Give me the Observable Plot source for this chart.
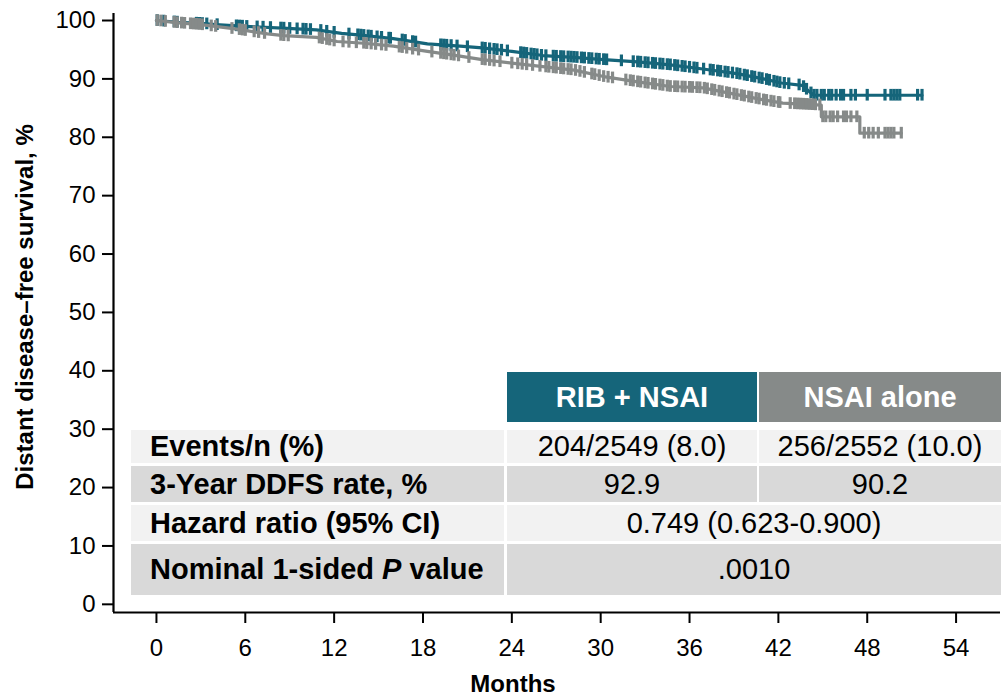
<!DOCTYPE html>
<html><head><meta charset="utf-8">
<script src="https://cdn.jsdelivr.net/npm/d3@7"></script>
<script src="https://cdn.jsdelivr.net/npm/@observablehq/plot@0.6"></script>
<style>
body{margin:0;background:#fff;font-family:"Liberation Sans",Arial,sans-serif;}
#wrap{position:relative;width:1001px;height:693px;overflow:hidden;background:#fff;}
#wrap svg{position:absolute;left:0;top:0;}
.c{position:absolute;display:flex;align-items:center;justify-content:center;font-size:29px;color:#000;box-sizing:border-box;white-space:pre;}
.lab{justify-content:flex-start;padding-left:19px;font-weight:bold;}
.hd{color:#fff;font-weight:bold;}
</style></head><body><div id="wrap"></div>
<script>
// ---- data ----
const groups = ["RIB + NSAI", "NSAI alone"];
const groupColors = ["#15657a", "#868a89"];
const xTicks = [0, 6, 12, 18, 24, 30, 36, 42, 48, 54];
const yTicks = [0, 10, 20, 30, 40, 50, 60, 70, 80, 90, 100];

const ribTimes = [0,1.5,3,4,6,8.5,10.8,12.5,13.8,16,18.3,20.5,22,24,26.1,28.2,30.2,32.5,34.7,36.9,39.2,41,42.2,43.6,44.0,44.4,51.7];
const ribSurvival = [100,99.7,99.5,99.3,99.0,98.7,98.4,97.8,97.5,96.9,96.0,95.6,95.3,94.7,94.0,93.7,93.3,92.9,92.4,91.7,90.9,90.0,89.3,88.9,88.0,87.2,87.2];
const nsaiTimes = [0,1.5,3,5.2,7.5,8.6,10.8,12.2,14,16,18.3,20.5,22,24,26.1,28.2,30.2,32.5,34.7,36.9,39.2,41,42.3,44.9,44.9,47.5,47.5,50.3];
const nsaiSurvival = [100,99.6,99.3,98.6,97.7,97.4,97.1,96.4,96.1,95.6,94.7,93.9,93.3,92.7,92.1,91.5,90.4,89.5,88.7,88.45,87.3,86.4,85.85,85.5,83.5,83.5,80.7,80.7];

const ribCensor = [0.05,0.5,1.2,1.4,2.7,2.9,3.1,3.4,4.1,5.4,5.6,5.8,6.1,6.8,7.2,7.7,8.4,8.6,9.0,9.5,9.9,10.1,10.4,11.1,11.5,12.0,13.0,13.6,13.8,14.0,14.3,14.5,14.9,15.2,15.7,15.8,16.6,16.8,17.3,17.5,19.2,19.4,19.6,19.9,20.3,21.0,22.0,22.2,22.5,22.8,23.0,23.3,23.7,24.6,24.8,25.0,25.3,25.5,25.7,26.0,26.3,26.8,27.0,27.3,27.5,27.8,28.0,28.2,28.4,28.7,28.9,29.2,29.4,29.7,29.9,30.2,30.4,31.4,32.2,32.5,32.7,33.0,33.2,33.5,33.7,34.0,34.2,34.5,34.7,35.0,35.2,35.5,35.7,36.0,36.3,36.5,36.95,37.4,37.6,37.9,38.1,38.4,38.6,38.9,39.2,39.4,39.7,39.9,40.2,40.4,40.7,40.9,41.2,41.4,41.7,41.9,42.1,42.4,42.7,43.4,43.7,43.9,44.2,44.4,44.6,44.9,45.1,45.4,45.6,45.9,46.2,46.4,46.9,47.2,48.0,49.2,49.6,49.8,50.0,50.2,51.4,51.7];
const nsaiCensor = [0.05,0.3,0.6,1.2,1.4,1.7,1.9,2.3,2.5,2.7,2.9,3.1,3.7,4.0,5.1,5.6,5.8,6.0,6.6,6.9,7.3,8.4,8.6,8.9,11.0,11.2,11.5,11.7,12.0,12.6,13.0,13.5,14.0,14.2,14.5,14.8,15.2,15.5,16.4,16.6,16.9,17.3,17.7,18.6,19.2,19.4,19.6,19.9,20.1,20.4,21.1,22.0,22.2,22.5,22.8,23.2,24.0,24.4,24.7,25.0,25.4,25.9,26.3,26.5,26.8,27.0,27.3,27.5,27.8,28.0,28.3,28.6,28.9,29.4,29.6,29.9,30.2,30.5,30.8,31.7,32.0,32.2,32.5,32.7,33.0,33.2,33.5,33.7,34.0,34.2,34.5,34.7,35.0,35.2,35.5,35.7,36.0,36.2,36.5,36.7,37.0,37.2,37.5,37.7,38.0,38.2,38.5,38.7,39.0,39.2,39.5,39.7,40.0,40.2,40.5,40.7,41.0,41.2,41.5,41.7,42.0,42.1,42.8,43.1,43.3,43.5,43.7,43.9,44.1,44.3,44.5,44.8,45.0,45.2,45.5,45.7,46.0,46.4,46.6,46.9,47.3,47.8,48.1,48.4,48.75,49.2,49.4,49.6,49.8,50.3];

const rowLabels = ["Events/n (%)", "3-Year DDFS rate, %", "Hazard ratio (95% CI)", "Nominal 1-sided <i>P</i> value"];
const ribValues = ["204/2549 (8.0)", "92.9"];
const nsaiValues = ["256/2552 (10.0)", "90.2"];
const sharedValues = ["0.749 (0.623-0.900)", ".0010"];

const xLabel = "Months";
const yLabel = "Distant disease\u2013free survival, %";

// ---- build ----
function along(ts, ss, t) {
  for (let i = ts.length - 2; i >= 0; i--) {
    if (ts[i] <= t) {
      const t0 = ts[i], t1 = ts[i + 1];
      if (t1 === t0) return ss[i + 1];
      return ss[i] + (ss[i + 1] - ss[i]) * Math.min(1, (t - t0) / (t1 - t0));
    }
  }
  return ss[0];
}
const ribLine = ribTimes.map((t, i) => ({g: groups[0], t, s: ribSurvival[i]}));
const nsaiLine = nsaiTimes.map((t, i) => ({g: groups[1], t, s: nsaiSurvival[i]}));
const censorRib = ribCensor.map(t => ({g: groups[0], t, s: along(ribTimes, ribSurvival, t)}));
const censorNsai = nsaiCensor.map(t => ({g: groups[1], t, s: along(nsaiTimes, nsaiSurvival, t)}));

const xMin = -2.9, yMin = -1.4;
const color = {domain: groups, range: groupColors};

const chart = Plot.plot({
  width: 1001, height: 693,
  marginLeft: 113, marginRight: 1, marginTop: 13, marginBottom: 81,
  style: {fontFamily: '"Liberation Sans", Arial, sans-serif', fontSize: "24px", color: "#000", background: "transparent", overflow: "visible"},
  x: {domain: [xMin, 57], axis: null},
  y: {domain: [yMin, 101.2], axis: null},
  color,
  marks: [
    Plot.axisX(xTicks, {tickSize: 11, tickPadding: 15, strokeWidth: 2, label: null, fontSize: 24}),
    Plot.axisY(yTicks, {tickSize: 11, tickPadding: 7, strokeWidth: 2, label: null, fontSize: 24}),
    Plot.ruleX([xMin], {strokeWidth: 2.2}),
    Plot.ruleY([yMin], {strokeWidth: 2.2}),
    Plot.line(ribLine, {x: "t", y: "s", stroke: "g", strokeWidth: 3.2}),
    Plot.ruleX(censorRib, {x: "t", y1: d => d.s - 1.0, y2: d => d.s + 1.0, stroke: "g", strokeWidth: 3.2}),
    Plot.line(nsaiLine, {x: "t", y: "s", stroke: "g", strokeWidth: 3.2}),
    Plot.ruleX(censorNsai, {x: "t", y1: d => d.s - 1.0, y2: d => d.s + 1.0, stroke: "g", strokeWidth: 3.2}),
    Plot.text([xLabel], {frameAnchor: "bottom", textAnchor: "middle", dx: -44, dy: 62, lineAnchor: "top", fontWeight: "bold", fontSize: 24}),
    Plot.text([yLabel], {frameAnchor: "left", textAnchor: "middle", dx: -88, dy: -6, rotate: -90, fontWeight: "bold", fontSize: 24})
  ]
});
const wrap = document.getElementById("wrap");
wrap.appendChild(chart);

// ---- table overlay ----
const cols = {lab: [131, 373], a: [507, 250], b: [759, 242], ab: [507, 494]};
const rows = [[430, 33], [466, 36], [505, 36], [544, 51]];
const fills = ["#f2f2f2", "#d9d9d9", "#f2f2f2", "#d9d9d9"];
function cell(col, top, h, html, bg, cls) {
  const d = document.createElement("div");
  d.className = "c " + (cls || "");
  d.style.left = col[0] + "px"; d.style.width = col[1] + "px";
  d.style.top = top + "px"; d.style.height = h + "px";
  d.style.background = bg;
  const s = document.createElement("span");
  s.innerHTML = html;
  d.appendChild(s);
  wrap.appendChild(d);
}
cell(cols.a, 372, 50, groups[0], groupColors[0], "hd");
cell(cols.b, 372, 50, groups[1], groupColors[1], "hd");
rowLabels.forEach((lab, i) => {
  const [top, h] = rows[i];
  cell(cols.lab, top, h, lab, fills[i], "lab");
  if (i < 2) {
    cell(cols.a, top, h, ribValues[i], fills[i]);
    cell(cols.b, top, h, nsaiValues[i], fills[i]);
  } else {
    cell(cols.ab, top, h, sharedValues[i - 2], fills[i]);
  }
});
</script>
</body></html>
